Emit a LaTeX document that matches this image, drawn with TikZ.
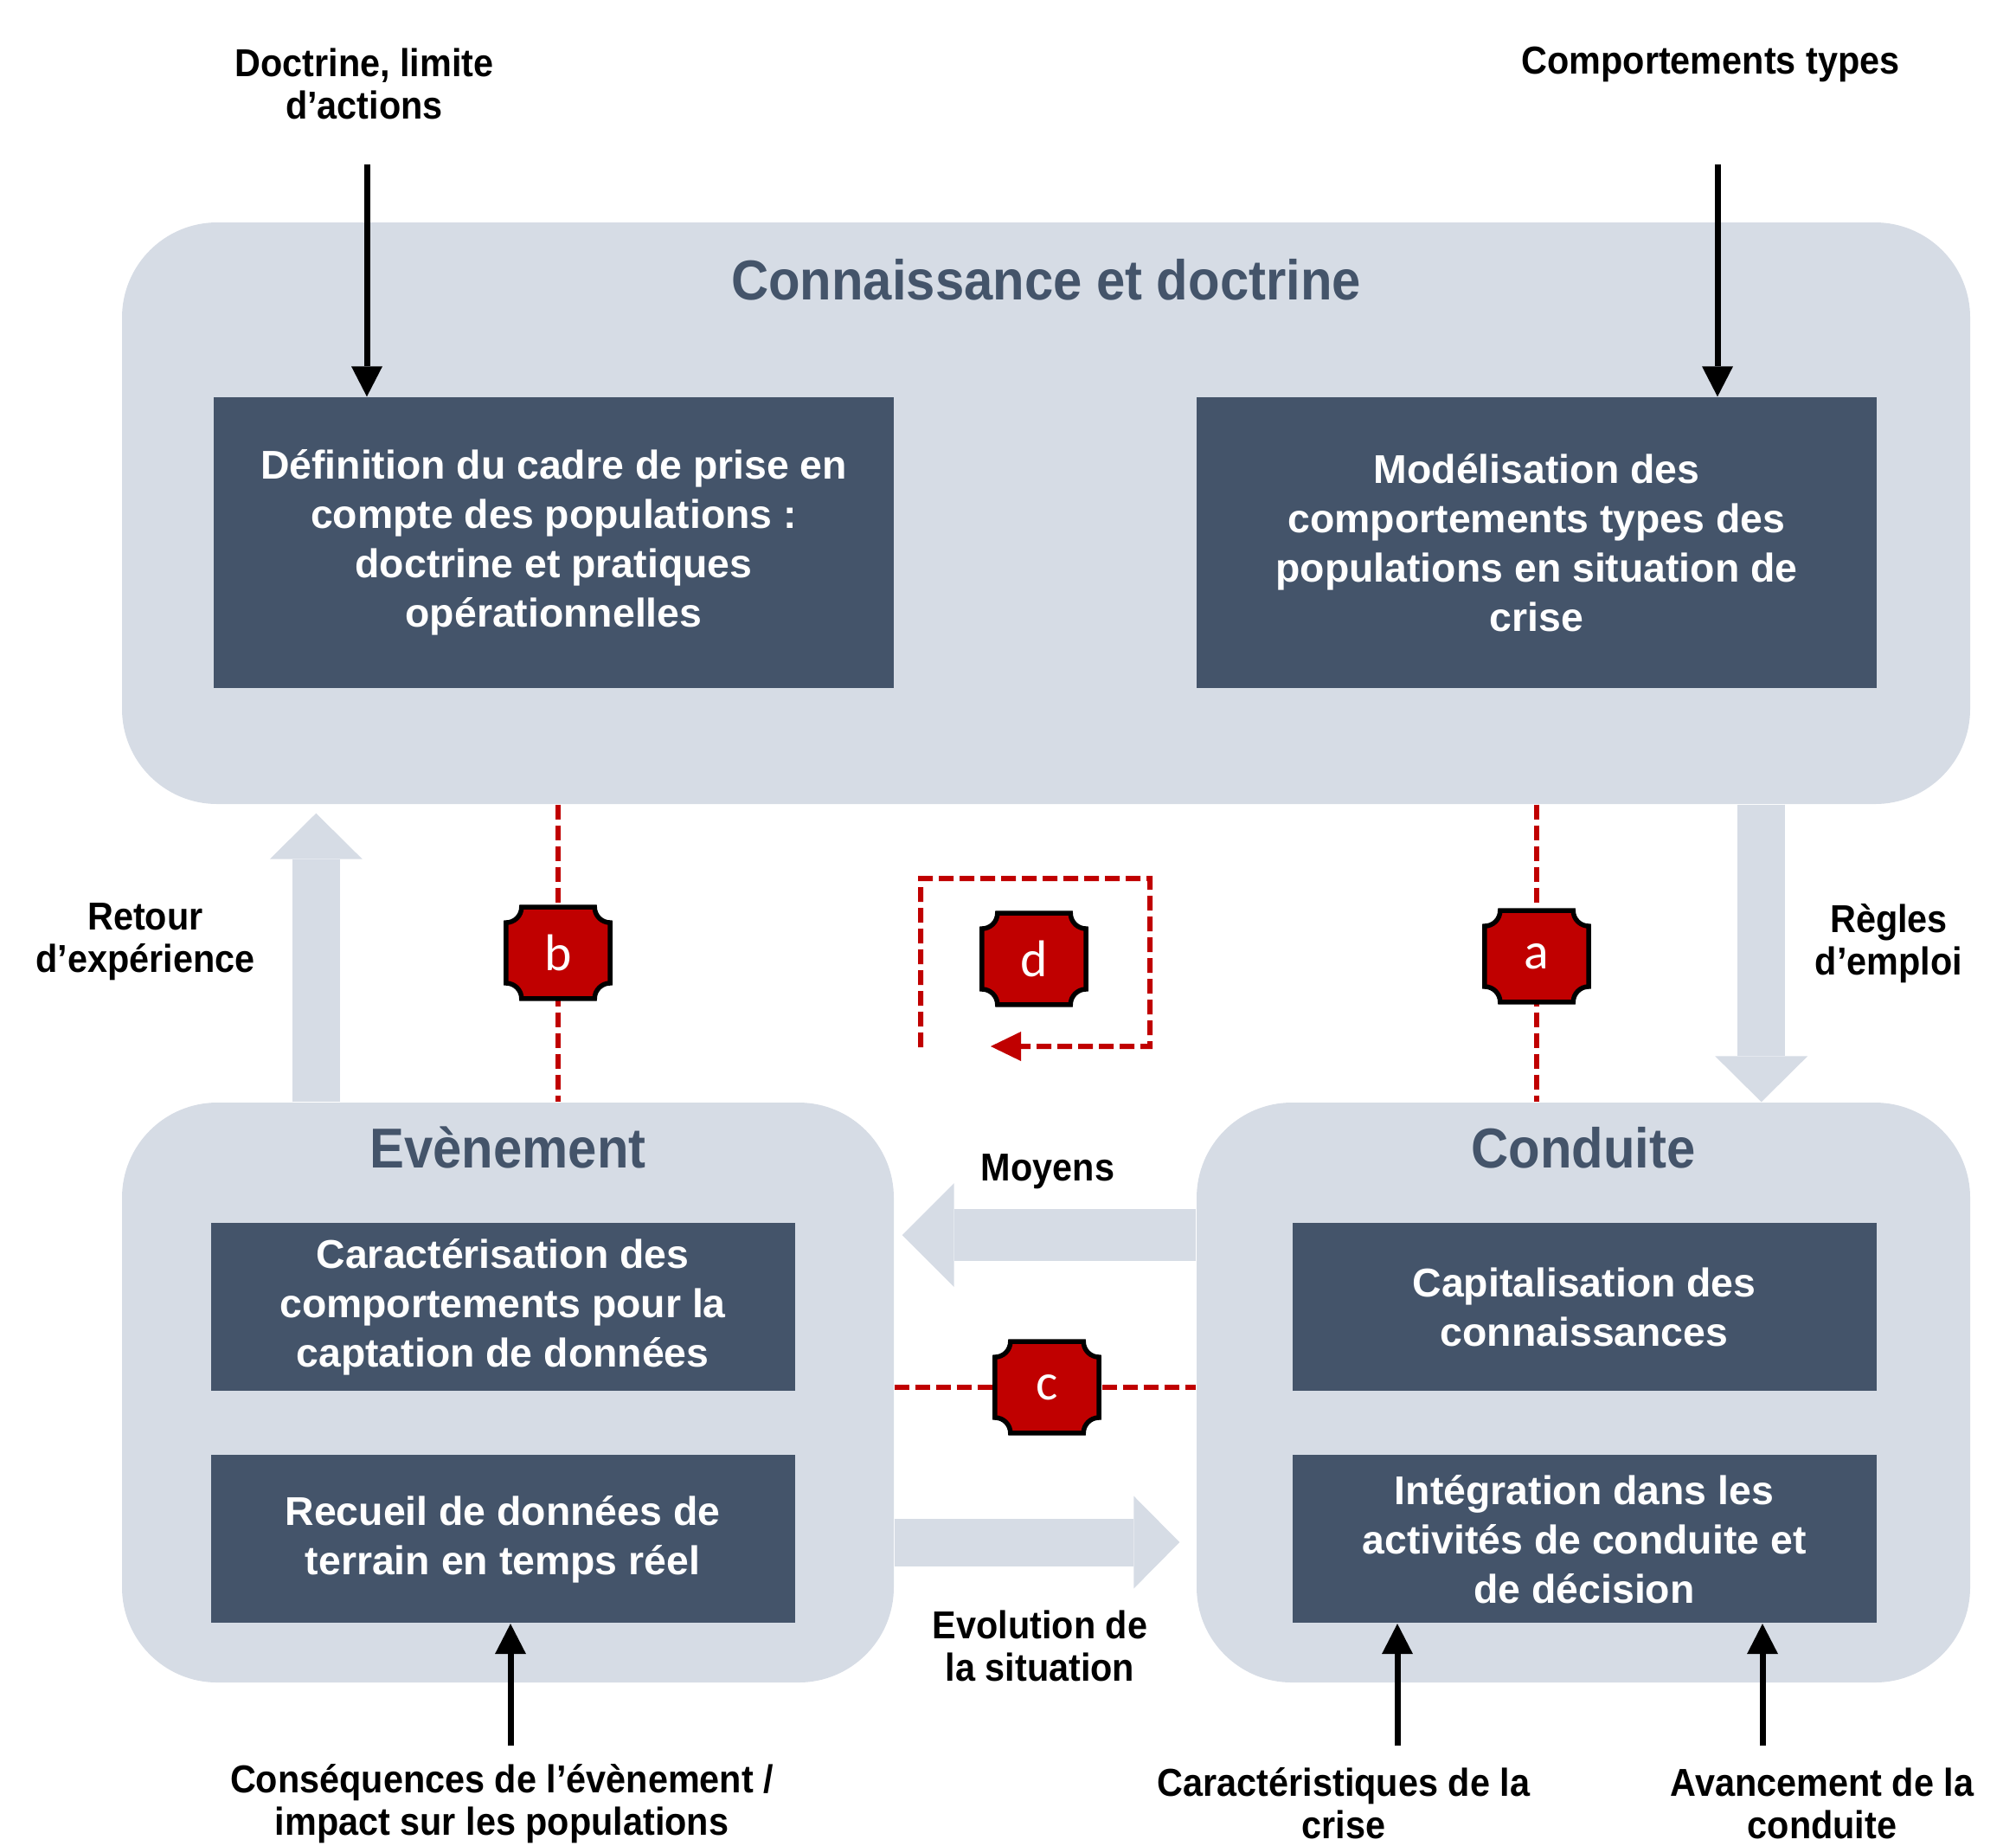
\documentclass[tikz,border=0pt]{standalone}
\usepackage{fontspec}
\setmainfont{Liberation Sans}
\newfontfamily\etroite[FakeStretch=0.92]{Liberation Sans}
\newfontfamily\lettre{Carlito}
\usepackage{tikz}
\usetikzlibrary{arrows.meta,calc,positioning}
\definecolor{fond}{HTML}{D6DCE5}
\definecolor{ardoise}{HTML}{44546A}
\definecolor{rouge}{HTML}{C00000}
\newdimen\wgrand
\newdimen\hgrand
\newdimen\wpetit
\newdimen\hpetit
\newdimen\rcoin
\wgrand=7.86cm
\hgrand=3.36cm
\wpetit=6.75cm
\hpetit=1.94cm
\rcoin=0.18cm
\tikzstyle{zone}=[
  fill=fond,
  inner sep=0pt,
  rectangle,
  rounded corners=1.1cm,
]
\tikzstyle{bloc}=[
  align=center,
  fill=ardoise,
  font={\bfseries\fontsize{13.2}{16.2}\selectfont},
  inner sep=0pt,
  rectangle,
  text=white,
]
\tikzstyle{grandbloc}=[bloc, minimum width=\wgrand, minimum height=\hgrand]
\tikzstyle{petitbloc}=[bloc, minimum width=\wpetit, minimum height=\hpetit]
\tikzstyle{titre}=[
  font={\etroite\bfseries\fontsize{18.5}{22}\selectfont},
  text=ardoise,
]
\tikzstyle{etiquette}=[
  align=center,
  font={\etroite\bfseries\fontsize{12.8}{13.9}\selectfont},
  inner sep=0pt,
]
\tikzstyle{fleche}=[
  draw=black,
  line width=0.07cm,
  -{Triangle[width=0.36cm 0, length=0.35cm 0, line width=0pt]},
]
\tikzstyle{grossefleche}=[
  draw=fond,
  line width=0.55cm,
  -{Triangle[width=1.07cm 0, length=0.53cm 0, line width=0pt]},
]
\tikzstyle{lien}=[
  draw=rouge,
  line width=0.06cm,
  dash pattern=on 0.17cm off 0.07cm,
]
\tikzstyle{repere}=[
  inner sep=0pt,
  minimum width=1.19cm,
  minimum height=1.045cm,
  rectangle,
]
\tikzstyle{plaquebord}=[draw=black, fill=rouge, line width=0.055cm]
\tikzstyle{plaquetexte}=[font={\lettre\fontsize{17}{20}\selectfont}, text=white]
\newcommand{\plaque}[1]{%
  \filldraw[plaquebord] ([xshift=\rcoin]#1.north west) -- ([xshift=-\rcoin]#1.north east)
    arc[start angle=180, end angle=270, radius=\rcoin] -- ([yshift=\rcoin]#1.south east)
    arc[start angle=90, end angle=180, radius=\rcoin] -- ([xshift=\rcoin]#1.south west)
    arc[start angle=0, end angle=90, radius=\rcoin] -- ([yshift=-\rcoin]#1.north west)
    arc[start angle=270, end angle=360, radius=\rcoin] -- cycle;
  \node (#1-lettre) [plaquetexte] at (#1) {#1};}

\begin{document}
\begin{tikzpicture}
  \useasboundingbox (0,0) rectangle (23.30,-21.32);
  % zones
  \node (savoir) [zone, minimum width=21.36cm, minimum height=6.72cm] at (12.09,-5.93) {};
  \node (evenement) [zone, minimum width=8.92cm, minimum height=6.70cm] at (5.87,-16.09) {};
  \node (conduite) [zone, minimum width=8.94cm, minimum height=6.70cm] at (18.30,-16.09) {};
  \node (titresavoir) [titre] at ([yshift=-0.67cm]savoir.north) {Connaissance et doctrine};
  \node (titreevenement) [titre] at ([yshift=-0.53cm]evenement.north) {Evènement};
  \node (titreconduite) [titre] at ([yshift=-0.53cm]conduite.north) {Conduite};
  % blocs
  \node (definition) [grandbloc] at (6.40,-6.27) {Définition du cadre de prise en\\compte des populations :\\doctrine et pratiques\\opérationnelles};
  \node (modele) [grandbloc] at (17.76,-6.27) {Modélisation des\\comportements types des\\populations en situation de\\crise};
  \node (caracterisation) [petitbloc] at (5.81,-15.10) {Caractérisation des\\comportements pour la\\captation de données};
  \node (recueil) [petitbloc, below=0.73cm of caracterisation] {Recueil de données de\\terrain en temps réel};
  \node (capitalisation) [petitbloc] at (18.31,-15.10) {Capitalisation des\\connaissances};
  \node (integration) [petitbloc, below=0.73cm of capitalisation] {Intégration dans les\\activités de conduite et\\de décision};
  % grosses fleches
  \coordinate (retour) at ($(evenement.north west)+(2.25,0)$);
  \coordinate (regles) at ($(savoir.south east)+(-2.42,0)$);
  \coordinate (moyens) at ($(conduite.west)+(0,1.82)$);
  \coordinate (evolution) at ($(evenement.east)+(0,-1.73)$);
  \draw [grossefleche, shorten >=0.1cm] (retour) -- (retour |- savoir.south);
  \draw [grossefleche] (regles) -- (regles |- conduite.north);
  \draw [grossefleche, line width=0.6cm, shorten >=0.09cm,
    -{Triangle[width=1.2cm 0, length=0.6cm 0, line width=0pt]}] (moyens) -- (moyens -| evenement.east);
  \draw [grossefleche, shorten >=0.19cm] (evolution) -- (evolution -| conduite.west);
  % entrees
  \node (doctrinetxt) [etiquette] at (4.21,-0.97) {Doctrine, limite\\d’actions};
  \node (comporttxt) [etiquette] at (19.77,-0.74) {Comportements types};
  \node (retourtxt) [etiquette] at (1.68,-10.88) {Retour\\d’expérience};
  \node (reglestxt) [etiquette] at (21.83,-10.90) {Règles\\d’emploi};
  \node (moyenstxt) [etiquette] at (12.11,-13.54) {Moyens};
  \node (evoltxt) [etiquette] at (12.02,-19.02) {Evolution de\\la situation};
  \node (consequtxt) [etiquette] at (5.80,-20.84) {Conséquences de l’évènement /\\impact sur les populations};
  \node (caracttxt) [etiquette] at (15.53,-20.84) {Caractéristiques de la\\crise};
  \node (avanctxt) [etiquette] at (21.06,-20.84) {Avancement de la\\conduite};
  \coordinate (doctrinepied) at (4.24,-1.90);
  \coordinate (comportpied) at (19.85,-1.90);
  \coordinate (consequtete) at (5.90,-20.17);
  \coordinate (caracttete) at (16.15,-20.17);
  \coordinate (avanctete) at (20.37,-20.17);
  \draw [fleche] (doctrinepied) -- (doctrinepied |- definition.north);
  \draw [fleche] (comportpied) -- (comportpied |- modele.north);
  \draw [fleche] (consequtete) -- (consequtete |- recueil.south);
  \draw [fleche] (caracttete) -- (caracttete |- integration.south);
  \draw [fleche] (avanctete) -- (avanctete |- integration.south);
  % reperes
  \node (a) [repere] at (17.76,-11.05) {};
  \node (b) [repere] at (6.45,-11.01) {};
  \node (c) [repere] at (12.10,-16.03) {};
  \node (d) [repere] at (11.95,-11.08) {};
  \draw [lien] (a |- savoir.south) -- (a |- conduite.north);
  \draw [lien] (b |- savoir.south) -- (b |- evenement.north);
  \draw [lien] (c -| evenement.east) -- (c -| conduite.west);
  \coordinate (boucle) at (10.64,-12.10);
  \coordinate (bouclefin) at (11.45,-12.09);
  \draw [lien, -{Triangle[width=0.34cm 0, length=0.35cm 0, line width=0pt]}]
    (boucle) -- ++(0,1.95) -- ++(2.65,0) -- ++(0,-1.94) -- (bouclefin);
  \plaque{a}
  \plaque{b}
  \plaque{c}
  \plaque{d}
\end{tikzpicture}
\end{document}
